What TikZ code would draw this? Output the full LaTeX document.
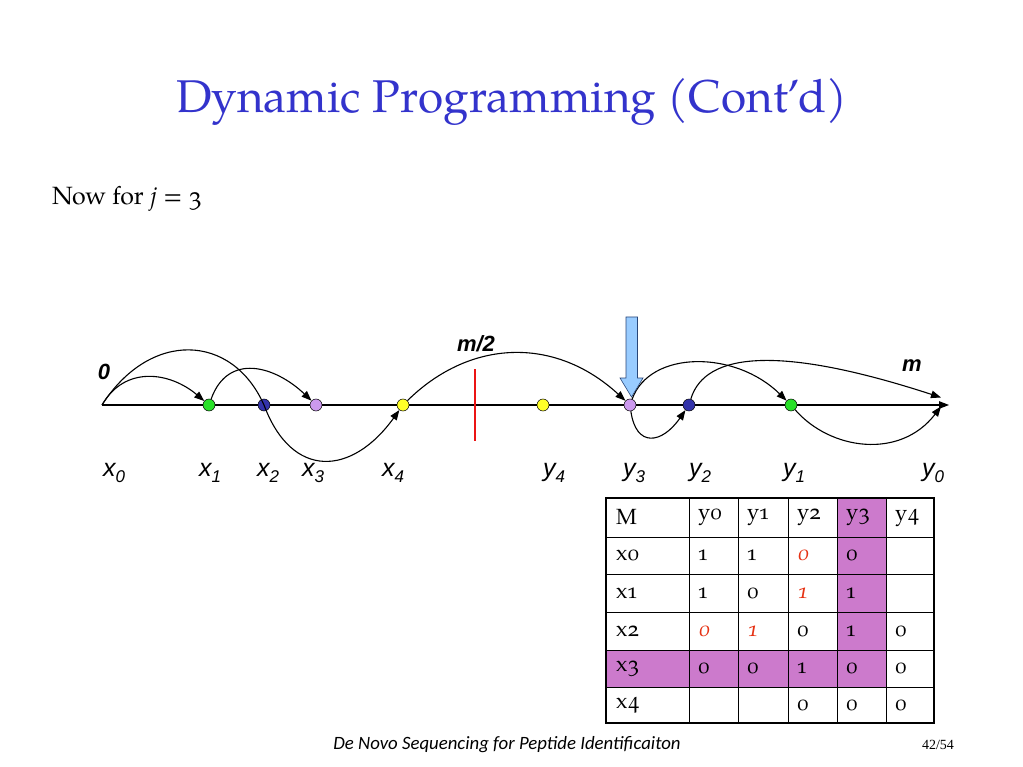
\documentclass[tikz,border=0pt]{standalone}
\usepackage{fontspec}
\setmainfont{texgyrepagella}[Extension=.otf, UprightFont=*-regular, ItalicFont=*-italic, BoldFont=*-bold, BoldItalicFont=*-bolditalic]
\newfontfamily\tabfont{texgyrepagella}[Extension=.otf, UprightFont=*-regular, ItalicFont=*-italic, Numbers=OldStyle]
\newfontfamily\arial{Liberation Sans}
\newfontfamily\calibri{Carlito}
\newfontfamily\timesf{Liberation Serif}
\usetikzlibrary{arrows.meta}
\definecolor{titleblue}{RGB}{51,51,204}
\definecolor{dgreen}{RGB}{40,225,40}
\definecolor{dblue}{RGB}{51,51,170}
\definecolor{dpurple}{RGB}{204,153,238}
\definecolor{dyellow}{RGB}{255,255,40}
\definecolor{tabpurple}{RGB}{204,122,204}
\definecolor{redtxt}{RGB}{230,50,20}
\definecolor{arrowfill}{RGB}{153,204,255}
\definecolor{arrowline}{RGB}{40,70,120}
\definecolor{axisred}{RGB}{235,20,20}
\newcommand\lab[2]{#1\raisebox{-6pt}{\fontsize{17}{17}\selectfont #2}}
\tikzset{
  dot/.style={circle, draw=black, line width=0.5pt, minimum size=12pt, inner sep=0pt},
  curve/.style={line width=1.1pt, -{Triangle[length=10pt,width=7.5pt]}},
  axisline/.style={line width=1.2pt, -{Triangle[length=10pt,width=7.5pt]}},
  lbl/.style={font=\arial\itshape\fontsize{25}{25}\selectfont, anchor=base, inner sep=0pt},
  blab/.style={font=\arial\bfseries\itshape\fontsize{22}{22}\selectfont, inner sep=0pt},
  cell/.style={anchor=west, inner sep=0pt, font=\tabfont\fontsize{22}{22}\selectfont},
  redc/.style={cell, text=redtxt, font=\tabfont\itshape\fontsize{22}{22}\selectfont},
  inner/.style={line width=1pt},
  blockarrow/.style={fill=arrowfill, draw=arrowline, line width=0.6pt},
}
\begin{document}
\begin{tikzpicture}[x=1pt,y=-1pt]
\useasboundingbox (0,0) rectangle (1023,767);
\fill[white] (0,0) rectangle (1023,767);

% title and text
\node[anchor=base, text=titleblue, inner sep=0pt, font=\fontsize{45.9}{45.9}\selectfont] (title) at (511.5,113) {Dynamic Programming (Cont’d)};
\node[anchor=base west, inner sep=0pt, font=\tabfont\fontsize{25}{25}\selectfont] (now) at (52,205) {Now for \textit{j} = 3};

% axis
\coordinate (x0) at (102,405);
\coordinate (axend) at (949,405);
\coordinate (y0a) at (941,397.5);
\coordinate (y0b) at (941,406.5);
\draw[axisline] (x0) -- (axend);
\draw[axisred, line width=2.4pt] (475,369) -- (475,441);

% dots
\node[dot, fill=dgreen] (x1) at (209,405) {};
\node[dot, fill=dblue] (x2) at (264,405) {};
\node[dot, fill=dpurple] (x3) at (316,405) {};
\node[dot, fill=dyellow] (x4) at (403,405) {};
\node[dot, fill=dyellow] (y4) at (543,405) {};
\node[dot, fill=dpurple] (y3) at (630,405) {};
\node[dot, fill=dblue] (y2) at (689,405) {};
\node[dot, fill=dgreen] (y1) at (791,405) {};

% curves
\draw[curve] (x0) .. controls (125,365) and (170,372) .. (x1);
\draw[curve] (x0) .. controls (150,330) and (232,333) .. (x2.center) .. controls (292,480) and (352,476) .. (x4);
\draw[curve] (x1) .. controls (228,352) and (275,366) .. (x3);
\draw[curve] (x4) .. controls (470,339) and (555,336) .. (y3);
\draw[curve] (y3) .. controls (636,448) and (662,444) .. (y2);
\draw[curve] (y3) .. controls (650,350) and (735,350) .. (y1);
\draw[curve] (y2) .. controls (705,352) and (780,345) .. (y0a);
\draw[curve] (y1) .. controls (830,450) and (900,460) .. (y0b);

% block arrow
\draw[blockarrow] (626,317) -- (637.5,317) -- (637.5,378) -- (643,378) -- (631.5,397) -- (620,378) -- (626,378) -- cycle;

% labels
\node[blab] (lzero) at (104,372) {0};
\node[blab] (lhalf) at (476,344) {m/2};
\node[blab] (lm) at (912,366) {m};
\node[lbl] (lx0) at (114,476) {\lab{x}{0}};
\node[lbl] (lx1) at (210,476) {\lab{x}{1}};
\node[lbl] (lx2) at (268,476) {\lab{x}{2}};
\node[lbl] (lx3) at (313,476) {\lab{x}{3}};
\node[lbl] (lx4) at (393,476) {\lab{x}{4}};
\node[lbl] (ly4) at (554,476) {\lab{y}{4}};
\node[lbl] (ly3) at (634,476) {\lab{y}{3}};
\node[lbl] (ly2) at (700,476) {\lab{y}{2}};
\node[lbl] (ly1) at (794,476) {\lab{y}{1}};
\node[lbl] (ly0) at (933,476) {\lab{y}{0}};

% table
\fill[tabpurple] (606,650) rectangle (886,687);
\fill[tabpurple] (837,498) rectangle (886,650);
\foreach \x in {689,738,788,837,886} \draw[inner] (\x,498) -- (\x,723);
\foreach \y in {537,574,612,650,687} \draw[inner] (606,\y) -- (934,\y);
\draw[line width=2pt] (606,498) rectangle (934,723);

% header row
\node[cell] (hM) at (616,517.5) {M};
\node[cell] (hy0) at (698,517.5) {y0};
\node[cell] (hy1) at (747,517.5) {y1};
\node[cell] (hy2) at (797,517.5) {y2};
\node[cell] (hy3) at (846,517.5) {y3};
\node[cell] (hy4) at (895,517.5) {y4};
% x0
\node[cell] (rx0) at (616,555.5) {x0};
\node[cell] (c00) at (698,555.5) {1};
\node[cell] (c01) at (747,555.5) {1};
\node[redc] (c02) at (797,555.5) {0};
\node[cell] (c03) at (846,555.5) {0};
% x1
\node[cell] (rx1) at (616,593) {x1};
\node[cell] (c10) at (698,593) {1};
\node[cell] (c11) at (747,593) {0};
\node[redc] (c12) at (797,593) {1};
\node[cell] (c13) at (846,593) {1};
% x2
\node[cell] (rx2) at (616,631) {x2};
\node[redc] (c20) at (698,631) {0};
\node[redc] (c21) at (747,631) {1};
\node[cell] (c22) at (797,631) {0};
\node[cell] (c23) at (846,631) {1};
\node[cell] (c24) at (895,631) {0};
% x3
\node[cell] (rx3) at (616,668.5) {x3};
\node[cell] (c30) at (698,668.5) {0};
\node[cell] (c31) at (747,668.5) {0};
\node[cell] (c32) at (797,668.5) {1};
\node[cell] (c33) at (846,668.5) {0};
\node[cell] (c34) at (895,668.5) {0};
% x4
\node[cell] (rx4) at (616,705) {x4};
\node[cell] (c42) at (797,705) {0};
\node[cell] (c43) at (846,705) {0};
\node[cell] (c44) at (895,705) {0};

% footer
\node[anchor=base, inner sep=0pt, font=\calibri\itshape\fontsize{18.8}{18.8}\selectfont] (foot) at (507,749) {De Novo Sequencing for Peptide Identificaiton};
\node[anchor=base, inner sep=0pt, font=\timesf\fontsize{14}{14}\selectfont] (page) at (938,749) {42/54};
\end{tikzpicture}
\end{document}
